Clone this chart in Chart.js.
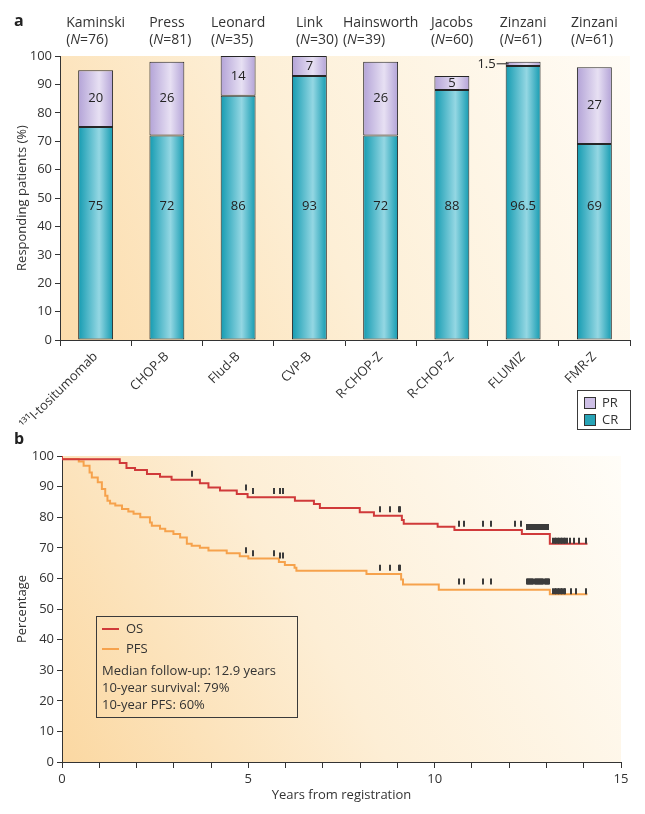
<!DOCTYPE html>
<html>
<head>
<meta charset="utf-8">
<script src="https://cdn.jsdelivr.net/npm/chart.js@4/dist/chart.umd.min.js"></script>
<style>
body { margin: 0; background: #fff; font-family: 'Open Sans', sans-serif; color: #333; }
#wrap { position: relative; width: 645px; height: 814px; overflow: hidden; }
canvas { position: absolute; left: 0; }
#c1 { top: 0; }
#c2 { top: 440px; }
.panel { position: absolute; font-weight: bold; font-size: 16px; color: #222; line-height: 16px; }
.caja { position: absolute; border: 1px solid #3a3a3a; box-sizing: border-box; font-size: 13px; color: #333; }
.caja span { position: absolute; white-space: nowrap; line-height: 16px; }
.cuadro { position: absolute; width: 10px; height: 10px; border: 1px solid #333; }
.raya { position: absolute; height: 2px; width: 17px; }
</style>
</head>
<body>
<div id="wrap">
  <canvas id="c1" width="645" height="440"></canvas>
  <canvas id="c2" width="645" height="374"></canvas>
  <div class="panel" style="left:14px;top:12px">a</div>
  <div class="panel" style="left:14px;top:430px">b</div>

  <div class="caja" style="left:577px;top:390px;width:54px;height:40px">
    <div class="cuadro" style="left:6px;top:6px;background:#cdbfe6"></div>
    <span style="left:24px;top:3px">PR</span>
    <div class="cuadro" style="left:6px;top:23px;background:#27a3b6"></div>
    <span style="left:24px;top:20px">CR</span>
  </div>

  <div class="caja" style="left:96px;top:616px;width:202px;height:102px">
    <div class="raya" style="left:5px;top:11px;background:#d03a3a"></div>
    <span style="left:29px;top:3px">OS</span>
    <div class="raya" style="left:5px;top:31px;background:#f6a24c"></div>
    <span style="left:29px;top:23px">PFS</span>
    <span style="left:5px;top:45px">Median follow-up: 12.9 years</span>
    <span style="left:5px;top:62px">10-year survival: 79%</span>
    <span style="left:5px;top:79px">10-year PFS: 60%</span>
  </div>
</div>

<script>
Chart.defaults.font.family = "'Open Sans', sans-serif"
Chart.defaults.color = '#333'

// ---- panel a: respuesta por estudio ----
const estudios = ['Kaminski', 'Press', 'Leonard', 'Link', 'Hainsworth', 'Jacobs', 'Zinzani', 'Zinzani']
const pacientes = [76, 81, 35, 30, 39, 60, 61, 61]
const regimenes = ['\u00B9\u00B3\u00B9I-tositumomab', 'CHOP-B', 'Flud-B', 'CVP-B', 'R-CHOP-Z', 'R-CHOP-Z', 'FLUMIZ', 'FMR-Z']
const valoresCR = [75, 72, 86, 93, 72, 88, 96.5, 69]
const valoresPR = [20, 26, 14, 7, 26, 5, 1.5, 27]

// ---- panel b: supervivencia (tiempo del escalon, valor despues del escalon) ----
const tiempoOS = [0, 1.55, 1.73, 1.96, 2.28, 2.63, 2.94, 3.70, 3.93, 4.24, 4.69, 4.98, 6.25, 6.76, 6.92, 7.99, 8.37, 9.12, 9.17, 10.08, 10.53, 12.34, 13.09, 13.16, 14.10]
const valorOS = [100, 98.9, 97.7, 96.1, 95.4, 94.1, 93.2, 92.2, 91.1, 89.7, 88.7, 87.6, 86.5, 85.4, 84.3, 83.0, 81.6, 80.5, 79.1, 77.9, 76.9, 75.8, 74.5, 71.3, 71.3]
const tiempoPFS = [0, 0.45, 0.58, 0.74, 0.80, 0.96, 1.07, 1.16, 1.22, 1.29, 1.43, 1.61, 1.78, 1.92, 2.10, 2.36, 2.41, 2.63, 2.77, 2.99, 3.17, 3.35, 3.48, 3.70, 3.93, 4.42, 4.77, 5.00, 5.82, 5.98, 6.24, 6.29, 8.17, 9.10, 9.15, 10.11, 13.09, 13.14, 14.10]
const valorPFS = [100, 99.0, 98.2, 96.8, 94.6, 93.0, 91.4, 89.2, 87.0, 85.4, 84.5, 83.8, 82.7, 81.9, 81.1, 80.0, 78.3, 77.2, 76.2, 75.4, 74.5, 73.4, 71.3, 70.7, 70.0, 69.1, 68.2, 67.2, 66.5, 65.4, 64.4, 63.5, 62.5, 61.4, 59.6, 58.0, 56.3, 54.8, 54.8]
// pacientes censurados (marcas)
const censuraOS = [3.48, 4.95, 5.13, 5.70, 5.84, 5.94, 8.52, 8.79, 9.04, 9.08, 10.65, 10.78, 11.31, 11.51, 12.16, 12.32,
  12.48, 12.51, 12.54, 12.57, 12.62, 12.65, 12.68, 12.71, 12.74, 12.77, 12.80, 12.83, 12.88, 12.92, 12.96, 13.00, 13.04,
  13.18, 13.22, 13.26, 13.30, 13.34, 13.38, 13.42, 13.46, 13.50, 13.56, 13.62, 13.75, 13.88, 14.05]
const censuraPFS = [4.95, 5.13, 5.70, 5.84, 5.94, 8.52, 8.79, 9.04, 9.08, 10.65, 10.78, 11.31, 11.51,
  12.47, 12.50, 12.53, 12.56, 12.59, 12.62, 12.65, 12.68, 12.71, 12.74, 12.77, 12.80, 12.83, 12.86, 12.89, 12.92, 12.95, 12.98, 13.01, 13.04, 13.07,
  13.18, 13.22, 13.26, 13.30, 13.34, 13.38, 13.42, 13.46, 13.50, 13.65, 13.79, 14.05]

const anchoBarra = 0.49

// fondo degradado del area del grafico
const fondo = {
  id: 'fondo',
  beforeDraw(chart, args, opts) {
    const { ctx, chartArea: a } = chart
    const g = ctx.createLinearGradient(a.left, a.bottom, a.right, a.top)
    opts.stops.forEach(s => g.addColorStop(s[0], s[1]))
    ctx.save()
    ctx.fillStyle = g
    ctx.fillRect(a.left, a.top, a.width, a.height)
    ctx.restore()
  }
}

// degradado horizontal de cada barra
function degradado(borde, centro) {
  return function (c) {
    const chart = c.chart
    if (!chart.chartArea || c.dataIndex === undefined) return borde
    const x = chart.scales.x.getPixelForValue(c.dataIndex)
    const w = chart.scales.x.width / regimenes.length * anchoBarra / 2
    const g = chart.ctx.createLinearGradient(x - w, 0, x + w, 0)
    g.addColorStop(0, borde)
    g.addColorStop(0.6, centro)
    g.addColorStop(1, borde)
    return g
  }
}

// numeros dentro de las barras
const etiquetas = {
  id: 'etiquetas',
  afterDatasetsDraw(chart) {
    const { ctx, scales: { x, y } } = chart
    const w = x.width / regimenes.length * anchoBarra / 2
    ctx.save()
    ctx.font = "13px 'Open Sans'"
    ctx.fillStyle = '#222'
    ctx.textBaseline = 'middle'
    valoresCR.forEach((v, i) => {
      const px = x.getPixelForValue(i)
      ctx.textAlign = 'center'
      ctx.fillText(String(v), px, y.getPixelForValue(47))
      const pr = valoresPR[i]
      const py = y.getPixelForValue(v + pr / 2)
      if (pr >= 3) {
        ctx.fillText(String(pr), px, py)
      } else {
        const izq = px - w
        ctx.textAlign = 'right'
        ctx.fillText(String(pr), izq - 10, py)
        ctx.strokeStyle = '#222'
        ctx.lineWidth = 1
        ctx.beginPath()
        ctx.moveTo(izq - 9, py)
        ctx.lineTo(izq + 3, py)
        ctx.stroke()
      }
    })
    ctx.restore()
  }
}

// autor y N encima de cada barra
const cabeceras = {
  id: 'cabeceras',
  afterDraw(chart) {
    const { ctx, scales: { x } } = chart
    ctx.save()
    ctx.fillStyle = '#333'
    ctx.textBaseline = 'middle'
    ctx.textAlign = 'left'
    estudios.forEach((nombre, i) => {
      const px = x.getPixelForValue(i)
      ctx.font = "14px 'Open Sans'"
      const izq = px - ctx.measureText(nombre).width / 2
      ctx.fillText(nombre, izq, 23)
      let cx = izq
      ctx.fillText('(', cx, 40)
      cx += ctx.measureText('(').width
      ctx.font = "italic 14px 'Open Sans'"
      ctx.fillText('N', cx, 40)
      cx += ctx.measureText('N').width
      ctx.font = "14px 'Open Sans'"
      ctx.fillText('=' + pacientes[i] + ')', cx, 40)
    })
    ctx.restore()
  }
}

// marcas de censura sobre las curvas
function valorEn(tiempos, valores, t) {
  let v = valores[0]
  for (let i = 0; i < tiempos.length; i++) {
    if (tiempos[i] <= t) v = valores[i]
  }
  return v
}
const censuras = {
  id: 'censuras',
  afterDatasetsDraw(chart) {
    const { ctx, scales: { x, y } } = chart
    ctx.save()
    ctx.strokeStyle = '#3b3b3b'
    ctx.lineWidth = 2
    const dibujar = (lista, tiempos, valores) => {
      lista.forEach(t => {
        const px = Math.round(x.getPixelForValue(t))
        const py = y.getPixelForValue(valorEn(tiempos, valores, t))
        ctx.beginPath()
        ctx.moveTo(px, py)
        ctx.lineTo(px, py - 6)
        ctx.stroke()
      })
    }
    dibujar(censuraOS, tiempoOS, valorOS)
    dibujar(censuraPFS, tiempoPFS, valorPFS)
    ctx.restore()
  }
}

const ejeTexto = { color: '#333', font: { size: 13 } }

const graficoBarras = new Chart(document.getElementById('c1'), {
  type: 'bar',
  data: {
    labels: regimenes,
    datasets: [{
      label: 'CR',
      data: valoresCR,
      backgroundColor: degradado('#149bb1', '#94d7e3'),
      borderColor: '#262626',
      borderWidth: 1,
      borderSkipped: false,
      barPercentage: anchoBarra,
      categoryPercentage: 1
    },
    {
      label: 'PR',
      data: valoresPR,
      backgroundColor: degradado('#b3a3d7', '#e7e0f3'),
      borderColor: '#262626',
      borderWidth: 1,
      borderSkipped: false,
      barPercentage: anchoBarra,
      categoryPercentage: 1
    }]
  },
  options: {
    responsive: false,
    animation: false,
    layout: { padding: { top: 56, right: 15, left: 0, bottom: 0 } },
    plugins: {
      legend: { display: false },
      tooltip: { enabled: false },
      fondo: { stops: [[0, '#fcdcab'], [0.45, '#fdefd6'], [1, '#fffcf6']] }
    },
    scales: {
      x: {
        stacked: true,
        grid: { drawOnChartArea: false, tickLength: 6, color: '#333' },
        border: { color: '#333' },
        ticks: { minRotation: 45, maxRotation: 45, autoSkip: false, ...ejeTexto },
        afterFit: s => { s.height = 100 }
      },
      y: {
        stacked: true,
        min: 0,
        max: 100,
        ticks: { stepSize: 10, ...ejeTexto },
        grid: { drawOnChartArea: false, tickLength: 5, color: '#333' },
        border: { color: '#333' },
        title: { display: true, text: 'Responding patients (%)', ...ejeTexto, padding: { top: 14, bottom: 0 } },
        afterFit: s => { s.width = 60 }
      }
    }
  },
  plugins: [fondo, etiquetas, cabeceras]
})

const graficoSupervivencia = new Chart(document.getElementById('c2'), {
  type: 'line',
  data: {
    datasets: [{
      label: 'OS',
      data: tiempoOS.map((t, i) => ({ x: t, y: valorOS[i] })),
      borderColor: '#d03a3a',
      borderWidth: 2,
      stepped: 'after',
      pointRadius: 0,
      fill: false
    },
    {
      label: 'PFS',
      data: tiempoPFS.map((t, i) => ({ x: t, y: valorPFS[i] })),
      borderColor: '#f6a24c',
      borderWidth: 2,
      stepped: 'after',
      pointRadius: 0,
      fill: false
    }]
  },
  options: {
    responsive: false,
    animation: false,
    layout: { padding: { top: 16, right: 24, left: 0, bottom: 0 } },
    plugins: {
      legend: { display: false },
      tooltip: { enabled: false },
      fondo: { stops: [[0, '#fbd8a2'], [0.45, '#fdeed5'], [1, '#fffdf8']] }
    },
    scales: {
      x: {
        type: 'linear',
        min: 0,
        max: 15,
        ticks: { stepSize: 1, autoSkip: false, maxRotation: 0, callback: v => (v % 5 === 0 ? v : ''), ...ejeTexto },
        grid: { drawOnChartArea: false, tickLength: 6, color: '#333' },
        border: { color: '#333' },
        title: { display: true, text: 'Years from registration', ...ejeTexto, padding: { top: 0, bottom: 11 } },
        afterFit: s => { s.height = 52 }
      },
      y: {
        min: 0,
        max: 100,
        ticks: { stepSize: 10, ...ejeTexto },
        grid: { drawOnChartArea: false, tickLength: 5, color: '#333' },
        border: { color: '#333' },
        title: { display: true, text: 'Percentage', ...ejeTexto, padding: { top: 14, bottom: 0 } },
        afterFit: s => { s.width = 62 }
      }
    }
  },
  plugins: [fondo, censuras]
})
</script>
</body>
</html>
